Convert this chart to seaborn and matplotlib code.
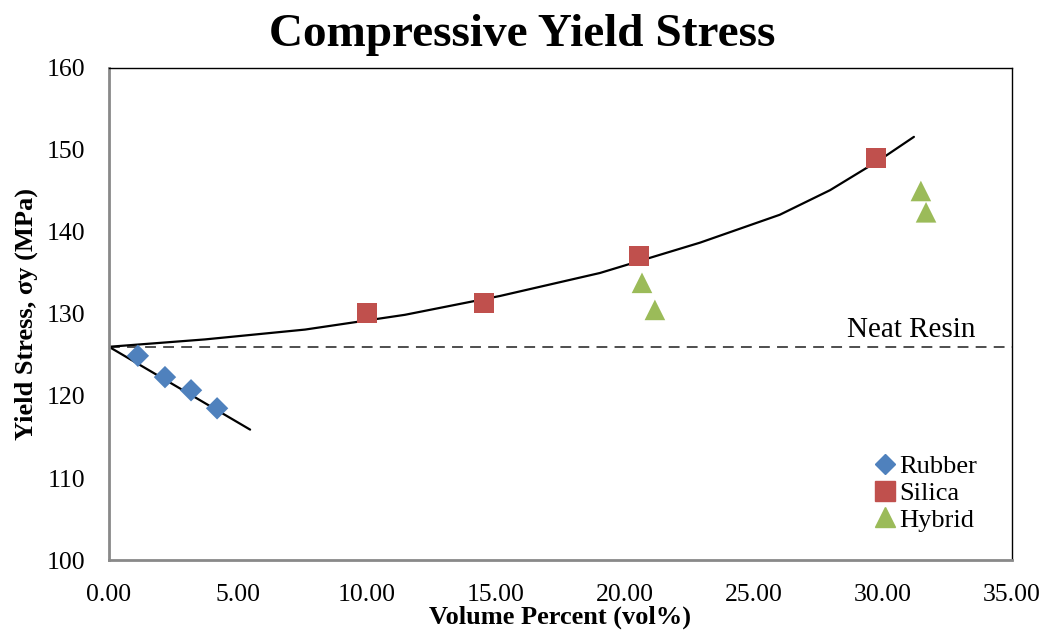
import numpy as np
import pandas as pd
import matplotlib
matplotlib.use("Agg")
import matplotlib.pyplot as plt
import seaborn as sns
from matplotlib.lines import Line2D

# ---- data ----
rubber_x = [1.12, 2.17, 3.18, 4.19]
rubber_y = [124.9, 122.3, 120.7, 118.5]
silica_x = [10.0, 14.53, 20.54, 29.73]
silica_y = [130.1, 131.3, 137.1, 149.0]
hybrid_x = [20.66, 21.16, 31.47, 31.67]
hybrid_y = [133.8, 130.5, 145.0, 142.4]

# trend lines
rubber_fit_x = [0.0, 5.47]
rubber_fit_y = [126.0, 115.9]
silica_fit_x = [0.0, 3.72, 7.60, 11.47, 15.16, 19.03, 22.91, 26.0, 27.95, 29.88, 31.2]
silica_fit_y = [126.0, 126.9, 128.1, 129.9, 132.2, 135.0, 138.7, 142.1, 145.1, 148.8, 151.6]
neat_resin = 126.0

categories = ["Rubber", "Silica", "Hybrid"]
colors = {"Rubber": "#4F81BD", "Silica": "#C0504D", "Hybrid": "#9BBB59"}
markers = {"Rubber": "D", "Silica": "s", "Hybrid": "^"}

x_ticks = [0, 5, 10, 15, 20, 25, 30, 35]
y_ticks = [100, 110, 120, 130, 140, 150, 160]

df = pd.DataFrame({
    "x": rubber_x + silica_x + hybrid_x,
    "y": rubber_y + silica_y + hybrid_y,
    "group": ["Rubber"] * 4 + ["Silica"] * 4 + ["Hybrid"] * 4,
})

sns.set_style("white")
plt.rcParams["font.family"] = ["Liberation Serif", "DejaVu Serif"]
plt.rcParams["text.color"] = "black"
plt.rcParams["axes.labelcolor"] = "black"
plt.rcParams["xtick.color"] = "black"
plt.rcParams["ytick.color"] = "black"

fig = plt.figure(figsize=(10.44, 6.30), dpi=100)
ax = fig.add_axes([0.1044, 0.1111, 0.8649, 0.7810])

# trend lines
sns.lineplot(x=rubber_fit_x, y=rubber_fit_y, ax=ax, color="black", lw=1.6, sort=False, legend=False)
sns.lineplot(x=silica_fit_x, y=silica_fit_y, ax=ax, color="black", lw=1.6, sort=False, legend=False)
ax.axhline(neat_resin, color="#404040", lw=1.3, ls=(0, (6, 4)), zorder=1)

sizes = {"Rubber": 130, "Silica": 210, "Hybrid": 220}
for g in categories:
    sub = df[df.group == g]
    sns.scatterplot(data=sub, x="x", y="y", ax=ax, color=colors[g], marker=markers[g],
                    s=sizes[g], edgecolor="none", linewidth=0, zorder=3, legend=False)

ax.text(33.6, neat_resin + 0.5, "Neat Resin", ha="right", va="bottom", fontsize=21)

ax.set_xlim(0, 35)
ax.set_ylim(100, 160)
ax.set_xticks(x_ticks)
ax.set_xticklabels([f"{v:.2f}" for v in x_ticks])
ax.set_yticks(y_ticks)
ax.set_yticklabels([str(v) for v in y_ticks])
ax.tick_params(axis="x", direction="in", length=6, width=1, color="#898989",
               labelcolor="black", labelsize=18.5, pad=17)
ax.tick_params(axis="y", direction="out", length=5, width=1, color="#898989",
               labelcolor="black", labelsize=18.5, pad=12)

for s in ["left", "bottom"]:
    ax.spines[s].set_color("#898989")
    ax.spines[s].set_linewidth(2)
for s in ["top", "right"]:
    ax.spines[s].set_color("black")
    ax.spines[s].set_linewidth(1)

ax.set_xlabel("Volume Percent (vol%)", fontsize=19, fontweight="bold", labelpad=0)
ax.set_ylabel("Yield Stress, σy (MPa)", fontsize=19, fontweight="bold", labelpad=6)
fig.suptitle("Compressive Yield Stress", fontsize=34, fontweight="bold",
             y=1 - 46 / 630, va="baseline")

handles = [Line2D([], [], ls="none", marker=markers[g], color=colors[g],
                  markersize={"Rubber": 10, "Silica": 14, "Hybrid": 14}[g]) for g in categories]
ax.legend(handles, categories, loc="lower right", bbox_to_anchor=(0.982, 0.02), frameon=False,
          fontsize=19, handlelength=0.8, handletextpad=0.15, labelspacing=0.12, borderpad=0.2)

fig.savefig("out.png", dpi=100)
